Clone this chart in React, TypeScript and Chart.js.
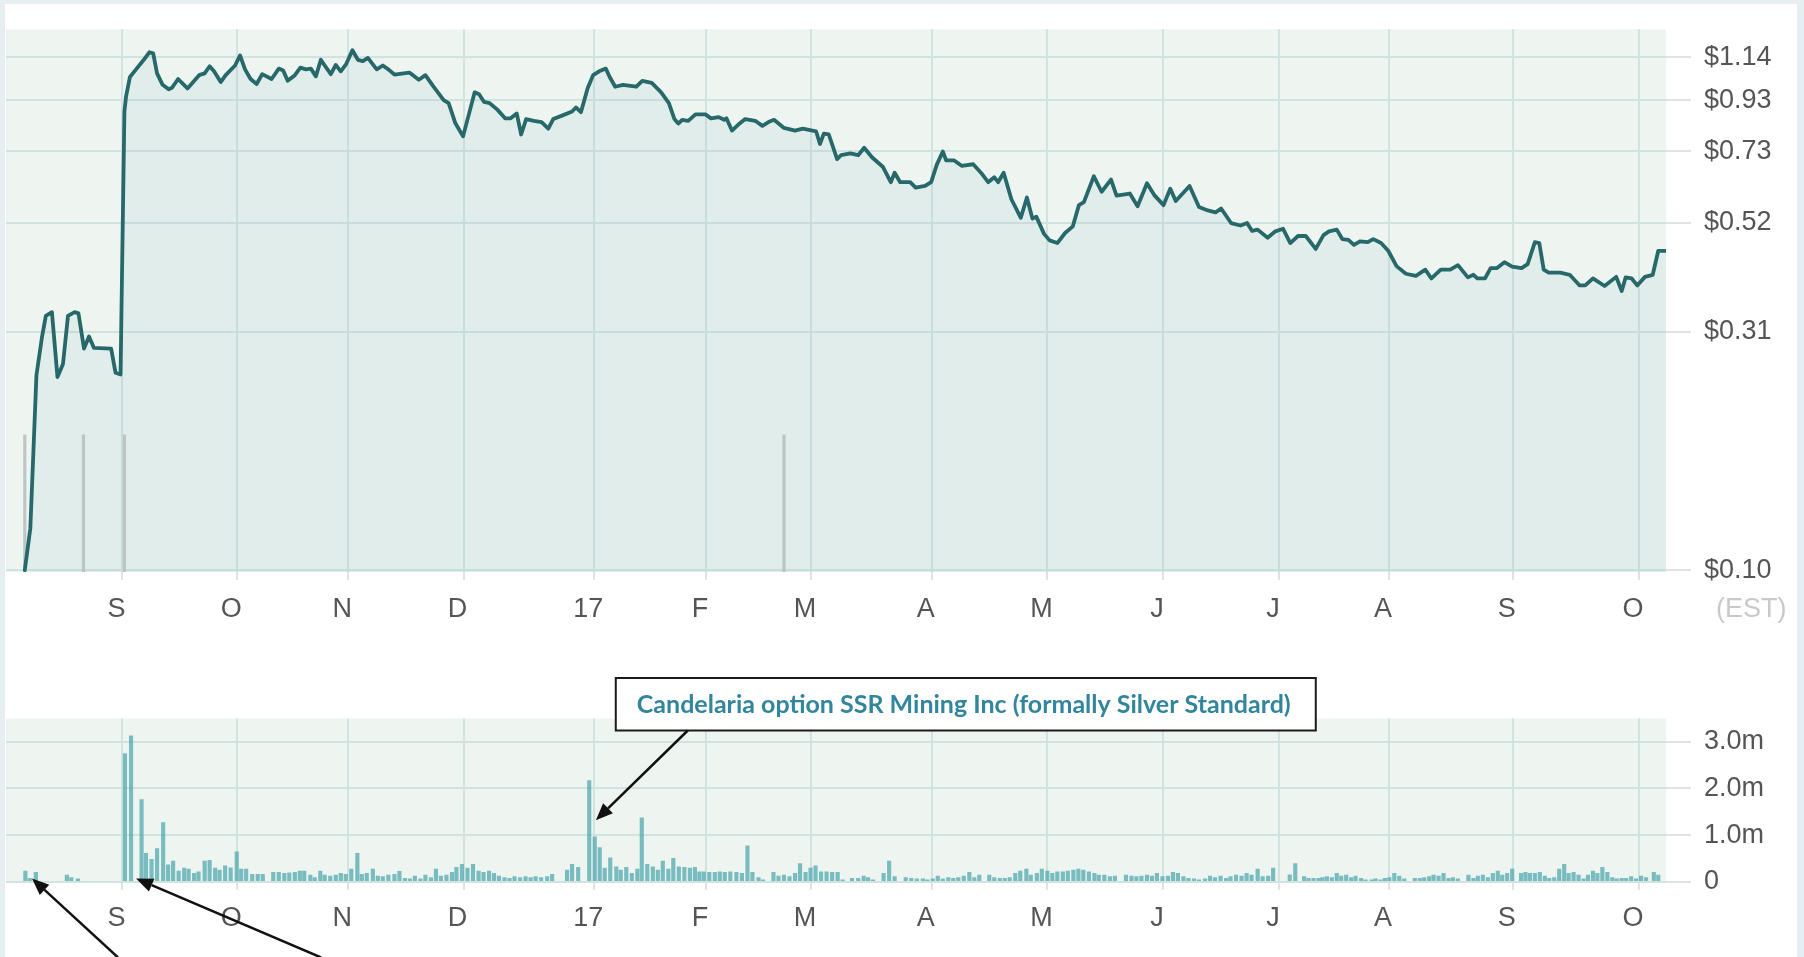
import React, { useEffect, useRef } from 'react';
import { Chart, registerables } from 'chart.js';

Chart.register(...registerables);

// ---------- data ----------
// x is a trading-day index (0..300) covering Aug 2016 .. Oct 2017
const monthTickDays = [21.05, 41.8, 61.85, 82.7, 106.3, 126.5, 145.5, 167.3, 188.2, 209.1, 230.05, 249.95, 272.3, 295.1];
const monthLabels = ['S', 'O', 'N', 'D', '17', 'F', 'M', 'A', 'M', 'J', 'J', 'A', 'S', 'O'];

const priceTicks = [0.10, 0.31, 0.52, 0.73, 0.93, 1.14];
const PRICE_MIN = 0.0991;
const PRICE_MAX = 1.302;

// [trading day, price $]
const pricePoints: [number, number][] = [
  [3.4,0.100],[4.4,0.122],[5.5,0.252],[6.5,0.302],[7.2,0.334],[8.3,0.340],[9.3,0.250],[10.3,0.266],[11.2,0.334],[12.4,0.340],
  [13.1,0.338],[14.1,0.286],[15.0,0.303],[15.9,0.287],[19.0,0.286],[19.8,0.255],[20.7,0.253],[21.4,0.881],[21.7,0.947],[22.4,1.038],
  [23.5,1.076],[24.9,1.126],[25.9,1.167],[26.6,1.161],[27.3,1.056],[28.3,1.000],[29.4,0.979],[30.0,0.986],[31.1,1.028],[32.8,0.983],
  [34.9,1.047],[35.9,1.056],[36.8,1.092],[37.6,1.066],[38.8,1.013],[39.7,1.047],[41.4,1.096],[42.3,1.150],[43.2,1.076],[44.2,1.028],
  [45.3,1.004],[46.3,1.052],[48.0,1.028],[49.3,1.080],[50.1,1.070],[50.9,1.019],[52.2,1.047],[53.2,1.085],[54.2,1.076],[55.1,1.080],
  [56.0,1.041],[56.9,1.126],[57.7,1.092],[58.7,1.052],[59.6,1.099],[60.5,1.066],[61.5,1.105],[62.6,1.178],[63.6,1.126],[64.5,1.119],
  [65.4,1.136],[67.0,1.076],[68.1,1.096],[69.1,1.076],[70.2,1.050],[72.9,1.060],[74.6,1.024],[75.8,1.047],[77.1,0.997],[79.1,0.930],
  [80.0,0.917],[81.2,0.834],[82.6,0.783],[83.6,0.865],[84.7,0.965],[85.5,0.956],[86.4,0.922],[87.4,0.917],[88.8,0.889],[90.2,0.853],
  [91.2,0.853],[92.3,0.873],[93.1,0.790],[94.0,0.850],[95.4,0.843],[96.8,0.838],[98.0,0.812],[98.9,0.850],[100.6,0.865],[102.3,0.881],
  [103.0,0.898],[103.9,0.878],[105.1,0.983],[106.1,1.047],[107.2,1.066],[108.4,1.080],[109.1,1.038],[110.1,0.991],[111.5,1.000],[113.9,0.991],
  [115.0,1.019],[116.7,1.009],[118.4,0.965],[119.8,0.917],[120.8,0.850],[121.5,0.832],[122.2,0.847],[123.3,0.843],[124.6,0.869],[126.4,0.869],
  [127.4,0.853],[128.8,0.858],[129.8,0.847],[130.2,0.853],[131.2,0.805],[132.3,0.827],[133.6,0.850],[135.4,0.843],[136.7,0.823],[137.8,0.838],
  [138.8,0.847],[140.6,0.815],[142.6,0.805],[144.0,0.812],[146.4,0.802],[147.1,0.755],[147.8,0.793],[148.7,0.790],[150.2,0.703],[150.9,0.716],
  [152.6,0.722],[154.0,0.716],[155.1,0.742],[156.5,0.709],[158.5,0.677],[159.9,0.630],[160.6,0.659],[161.6,0.630],[163.4,0.630],[164.4,0.614],
  [166.1,0.619],[167.2,0.630],[168.2,0.684],[169.3,0.729],[169.9,0.699],[171.3,0.699],[172.7,0.681],[174.8,0.686],[176.2,0.659],[177.5,0.630],
  [178.6,0.645],[179.3,0.630],[180.3,0.659],[181.7,0.581],[183.4,0.532],[184.5,0.586],[185.5,0.530],[186.2,0.535],[187.6,0.493],[188.6,0.478],
  [190.0,0.472],[191.4,0.495],[192.8,0.511],[193.9,0.565],[194.8,0.573],[196.6,0.648],[198.0,0.602],[199.7,0.638],[200.7,0.591],[203.1,0.597],
  [204.5,0.562],[206.2,0.627],[207.6,0.591],[209.2,0.565],[210.4,0.611],[211.4,0.576],[213.9,0.619],[215.6,0.560],[217.2,0.551],[218.6,0.546],
  [219.6,0.556],[221.4,0.519],[223.1,0.513],[224.3,0.519],[225.2,0.500],[226.2,0.503],[228.0,0.484],[229.4,0.499],[230.8,0.505],[232.1,0.472],
  [233.5,0.488],[234.9,0.488],[236.7,0.459],[238.1,0.490],[239.1,0.499],[240.5,0.503],[241.5,0.481],[242.6,0.479],[243.6,0.468],[244.7,0.476],
  [246.1,0.474],[247.1,0.481],[248.5,0.472],[249.8,0.455],[251.3,0.423],[253.0,0.408],[254.8,0.404],[256.5,0.416],[257.6,0.399],[259.3,0.416],
  [261.0,0.416],[262.4,0.425],[264.2,0.401],[265.2,0.406],[265.9,0.399],[267.3,0.399],[268.3,0.419],[269.4,0.419],[270.8,0.431],[272.2,0.422],
  [273.9,0.419],[275.0,0.427],[276.3,0.474],[277.1,0.472],[277.9,0.416],[278.8,0.410],[280.9,0.410],[282.6,0.406],[284.4,0.386],[285.4,0.386],
  [286.8,0.399],[288.9,0.385],[291.0,0.402],[292.0,0.376],[292.7,0.401],[293.8,0.399],[294.8,0.386],[296.2,0.402],[297.6,0.406],[298.6,0.455],
  [300.0,0.455],
];

// event markers on the price panel: [trading day, top $]
const markerPoints: [number, number][] = [[3.4, 0.19], [14.0, 0.19], [21.4, 0.19], [140.6, 0.19]];

const volumeTicks = [0, 0.5, 1, 1.5, 2, 2.5, 3, 3.5];
const VOLUME_MAX = 3.5;

// [trading day, volume in millions]
const volumePoints: [number, number][] = [
  [3.5,0.23],[4.3,0.07],[5.4,0.20],[11.0,0.14],[11.8,0.09],[13.0,0.06],[21.5,2.75],[22.6,3.13],[24.5,1.76],[25.3,0.61],
  [26.3,0.48],[27.3,0.71],[28.4,1.27],[29.3,0.36],[30.2,0.44],[31.2,0.23],[32.2,0.29],[33.0,0.27],[34.0,0.18],[34.8,0.21],
  [35.9,0.44],[36.8,0.46],[37.8,0.29],[38.6,0.25],[39.6,0.34],[40.6,0.30],[41.7,0.64],[42.5,0.27],[43.4,0.27],[44.5,0.16],
  [45.5,0.16],[46.4,0.16],[48.3,0.20],[49.3,0.20],[50.3,0.18],[51.2,0.19],[52.2,0.20],[53.1,0.23],[53.9,0.23],[55.0,0.14],
  [55.8,0.09],[56.8,0.23],[57.6,0.14],[58.6,0.12],[59.6,0.14],[60.5,0.18],[61.4,0.16],[62.4,0.27],[63.5,0.61],[64.3,0.16],
  [65.2,0.18],[66.3,0.27],[67.2,0.12],[68.1,0.11],[69.1,0.14],[70.2,0.16],[71.1,0.22],[72.1,0.07],[73.0,0.06],[73.9,0.12],
  [74.9,0.06],[75.8,0.14],[76.8,0.09],[77.7,0.27],[78.6,0.12],[79.6,0.14],[80.6,0.20],[81.4,0.31],[82.4,0.37],[83.4,0.29],
  [84.4,0.37],[85.4,0.23],[86.3,0.20],[87.3,0.23],[88.2,0.18],[89.1,0.12],[90.1,0.09],[91.0,0.07],[91.9,0.11],[92.9,0.09],
  [93.9,0.11],[94.8,0.09],[95.7,0.11],[96.7,0.09],[97.8,0.11],[98.7,0.16],[101.4,0.25],[102.3,0.37],[103.4,0.31],[105.4,2.17],
  [106.4,0.96],[107.3,0.73],[108.2,0.29],[109.2,0.51],[110.3,0.32],[111.1,0.25],[112.1,0.31],[113.1,0.18],[114.1,0.27],[114.9,1.37],
  [115.9,0.37],[116.9,0.32],[117.8,0.25],[118.7,0.44],[119.7,0.27],[120.6,0.50],[121.6,0.32],[122.6,0.31],[123.6,0.29],[124.5,0.31],
  [125.3,0.21],[126.1,0.21],[127.1,0.20],[128.1,0.20],[129.0,0.21],[129.9,0.20],[130.9,0.21],[132.0,0.20],[133.0,0.18],[134.0,0.77],
  [134.9,0.20],[136.0,0.09],[136.8,0.04],[138.7,0.20],[139.6,0.12],[140.6,0.14],[141.6,0.11],[142.6,0.18],[143.5,0.39],[144.5,0.20],
  [145.4,0.29],[146.3,0.34],[147.3,0.21],[148.3,0.21],[149.3,0.20],[150.3,0.20],[151.2,0.04],[152.9,0.07],[154.0,0.07],[155.0,0.12],
  [155.8,0.09],[156.7,0.04],[158.6,0.18],[159.6,0.44],[160.6,0.11],[162.6,0.09],[163.6,0.07],[164.6,0.06],[165.7,0.06],[166.5,0.04],
  [167.5,0.06],[168.4,0.12],[169.3,0.06],[170.3,0.09],[171.2,0.07],[172.1,0.09],[173.1,0.12],[174.1,0.20],[175.0,0.09],[175.9,0.14],
  [177.7,0.14],[178.6,0.09],[179.6,0.07],[180.5,0.07],[181.4,0.09],[182.4,0.18],[183.3,0.23],[184.4,0.27],[185.2,0.14],[186.3,0.18],
  [187.2,0.27],[188.2,0.23],[189.1,0.18],[190.0,0.21],[191.0,0.21],[191.9,0.23],[192.9,0.25],[193.8,0.27],[194.7,0.25],[195.7,0.21],
  [196.7,0.18],[197.5,0.14],[198.5,0.14],[199.5,0.11],[200.4,0.12],[202.4,0.14],[203.4,0.12],[204.3,0.11],[205.2,0.12],[206.2,0.14],
  [207.1,0.12],[208.0,0.18],[209.0,0.11],[210.0,0.12],[210.9,0.20],[211.8,0.18],[212.8,0.11],[213.7,0.07],[214.7,0.06],[215.6,0.04],
  [216.7,0.06],[217.6,0.12],[218.5,0.09],[219.5,0.12],[220.5,0.07],[221.3,0.11],[222.3,0.14],[223.3,0.12],[224.2,0.18],[225.1,0.14],
  [226.2,0.27],[227.1,0.11],[228.1,0.12],[229.0,0.29],[232.0,0.15],[233.0,0.39],[234.6,0.11],[235.4,0.07],[236.3,0.07],[237.2,0.07],
  [237.9,0.09],[238.7,0.11],[239.6,0.09],[240.5,0.18],[241.3,0.12],[242.2,0.14],[243.1,0.09],[243.9,0.12],[244.9,0.07],[245.7,0.04],
  [246.8,0.04],[247.5,0.06],[248.4,0.04],[249.2,0.07],[250.0,0.09],[250.9,0.18],[251.8,0.12],[252.7,0.06],[254.6,0.07],[255.5,0.07],
  [256.3,0.09],[257.2,0.11],[258.0,0.14],[258.9,0.12],[259.8,0.18],[260.7,0.07],[261.5,0.09],[262.4,0.06],[264.3,0.14],[265.2,0.07],
  [266.0,0.12],[266.9,0.14],[267.8,0.09],[268.7,0.18],[269.6,0.23],[270.4,0.14],[271.3,0.18],[272.2,0.27],[273.8,0.18],[274.6,0.20],
  [275.4,0.18],[276.3,0.18],[277.2,0.20],[278.1,0.12],[278.9,0.07],[279.8,0.09],[280.7,0.27],[281.6,0.37],[282.4,0.18],[283.3,0.20],
  [284.2,0.14],[285.1,0.06],[285.9,0.14],[286.8,0.23],[287.6,0.18],[288.5,0.31],[289.4,0.20],[290.3,0.09],[291.1,0.06],[292.0,0.07],
  [292.8,0.07],[293.7,0.11],[294.6,0.06],[295.5,0.12],[296.4,0.09],[297.8,0.20],[298.6,0.14],
];

const calloutText = 'Candelaria option SSR Mining Inc (formally Silver Standard)';
const calloutBoxDay = 110.2;
// arrow tips [trading day, volume m]
const arrowTips: [number, number][] = [[4.7, 0.07], [23.5, 0.07], [106.6, 1.32]];

// ---------- styling ----------
const FONT = '"Liberation Sans", Arial, Helvetica, sans-serif';
const TICK_FONT = { family: FONT, size: 27 };
const TICK_COLOR = '#555555';
const GRID = '#d0e3e0';
const TICK_MARK = '#e0e3e3';
const PLOT_BG = '#eef5f1';
const AXIS_W = 138;

const plotBg = {
  id: 'plotBg',
  beforeDraw(chart: any) {
    const { ctx, chartArea: a } = chart;
    ctx.save();
    ctx.fillStyle = PLOT_BG;
    ctx.fillRect(a.left, a.top, a.right - a.left, a.bottom - a.top);
    ctx.restore();
  },
};

const estLabel = {
  id: 'estLabel',
  afterDraw(chart: any) {
    const { ctx, chartArea: a } = chart;
    ctx.save();
    ctx.font = `27px ${FONT}`;
    ctx.fillStyle = '#c9c9c9';
    ctx.textAlign = 'left';
    ctx.textBaseline = 'middle';
    ctx.fillText('(EST)', a.right + 50, a.bottom + 37.5);
    ctx.restore();
  },
};

function drawArrow(ctx: CanvasRenderingContext2D, x0: number, y0: number, x1: number, y1: number) {
  const ang = Math.atan2(y1 - y0, x1 - x0);
  const len = 17;
  const half = 7;
  const bx = x1 - len * Math.cos(ang);
  const by = y1 - len * Math.sin(ang);
  ctx.beginPath();
  ctx.moveTo(x0, y0);
  ctx.lineTo(bx, by);
  ctx.stroke();
  ctx.beginPath();
  ctx.moveTo(x1, y1);
  ctx.lineTo(bx + half * Math.sin(ang), by - half * Math.cos(ang));
  ctx.lineTo(bx - half * Math.sin(ang), by + half * Math.cos(ang));
  ctx.closePath();
  ctx.fill();
}

const annotations = {
  id: 'annotations',
  afterDraw(chart: any) {
    const { ctx, chartArea: a, scales } = chart;
    const xs = scales.x;
    const ys = scales.y;
    ctx.save();
    // callout box
    const bx = xs.getPixelForValue(calloutBoxDay);
    const by = a.top - 40.5;
    const bw = 700;
    const bh = 52.5;
    ctx.fillStyle = '#ffffff';
    ctx.fillRect(bx, by, bw, bh);
    ctx.strokeStyle = '#1a1a1a';
    ctx.lineWidth = 2;
    ctx.strokeRect(bx, by, bw, bh);
    let size = 25;
    ctx.font = `bold ${size}px Lato, "Open Sans", sans-serif`;
    const w = ctx.measureText(calloutText).width;
    size = Math.min(26, size * 654 / w);
    ctx.font = `bold ${size}px Lato, "Open Sans", sans-serif`;
    ctx.fillStyle = '#31859c';
    ctx.textAlign = 'center';
    ctx.textBaseline = 'alphabetic';
    ctx.fillText(calloutText, bx + bw / 2 - 2, by + 35);

    // arrows
    ctx.strokeStyle = '#111111';
    ctx.fillStyle = '#111111';
    ctx.lineWidth = 2.5;
    const tails = [
      (tx: number, ty: number) => [tx + 86, ty + 79],
      (tx: number, ty: number) => [tx + 185, ty + 79],
      () => [bx + 72, by + bh],
    ];
    arrowTips.forEach(([d, v], i) => {
      const tx = xs.getPixelForValue(d);
      const ty = ys.getPixelForValue(v);
      const [sx, sy] = tails[i](tx, ty);
      drawArrow(ctx, sx, sy, tx, ty);
    });
    ctx.restore();
  },
};

function xScale(height: number) {
  return {
    type: 'linear',
    min: 0,
    max: 300,
    offset: false,
    afterBuildTicks: (s: any) => {
      s.ticks = monthTickDays.map((v) => ({ value: v }));
    },
    afterFit: (s: any) => {
      s.height = height;
    },
    ticks: {
      autoSkip: false,
      maxRotation: 0,
      minRotation: 0,
      padding: 13,
      labelOffset: -6,
      font: TICK_FONT,
      color: TICK_COLOR,
      callback: (_v: any, i: number) => monthLabels[i],
    },
    grid: { color: GRID, lineWidth: 2, tickLength: 8, tickColor: TICK_MARK, offset: false },
    border: { display: false },
  };
}

export default function App() {
  const topRef = useRef<HTMLCanvasElement>(null);
  const botRef = useRef<HTMLCanvasElement>(null);

  useEffect(() => {
    const priceChart = new Chart(topRef.current as HTMLCanvasElement, {
      type: 'line',
      data: {
        datasets: [
          {
            type: 'line',
            data: pricePoints.map(([x, y]) => ({ x, y })),
            borderColor: '#27686a',
            borderWidth: 3.8,
            pointRadius: 0,
            tension: 0,
            fill: 'start',
            backgroundColor: 'rgba(118,175,181,0.11)',
            borderJoinStyle: 'round',
            borderCapStyle: 'round',
            order: 0,
          } as any,
          {
            type: 'bar',
            data: markerPoints.map(([x, y]) => ({ x, y: [PRICE_MIN, y] })),
            backgroundColor: 'rgba(188,194,193,0.95)',
            barThickness: 2.5,
            grouped: false,
            order: 1,
          } as any,
        ],
      },
      options: {
        animation: false,
        responsive: false,
        devicePixelRatio: 1,
        layout: { padding: { left: 6, top: 28.5, right: 0, bottom: 0 } },
        plugins: {
          legend: { display: false },
          tooltip: { enabled: false },
          filler: { drawTime: 'beforeDatasetsDraw' },
        } as any,
        scales: {
          x: xScale(68) as any,
          y: {
            type: 'logarithmic',
            position: 'right',
            min: PRICE_MIN,
            max: PRICE_MAX,
            afterBuildTicks: (s: any) => {
              s.ticks = priceTicks.map((v) => ({ value: v }));
            },
            afterFit: (s: any) => {
              s.width = AXIS_W;
            },
            ticks: {
              padding: 13,
              font: TICK_FONT,
              color: TICK_COLOR,
              callback: (v: any) => '$' + Number(v).toFixed(2),
            },
            grid: { color: GRID, lineWidth: 2, tickLength: 25, tickColor: TICK_MARK },
            border: { display: false },
          } as any,
        },
      },
      plugins: [plotBg, estLabel],
    });

    const volumeChart = new Chart(botRef.current as HTMLCanvasElement, {
      type: 'bar',
      data: {
        datasets: [
          {
            data: volumePoints.map(([x, y]) => ({ x, y })),
            backgroundColor: 'rgba(76,166,172,0.72)',
            barThickness: 3.5,
            grouped: false,
          } as any,
        ],
      },
      options: {
        animation: false,
        responsive: false,
        devicePixelRatio: 1,
        layout: { padding: { left: 6, top: 78.5, right: 0, bottom: 0 } },
        plugins: { legend: { display: false }, tooltip: { enabled: false } },
        scales: {
          x: xScale(75.3) as any,
          y: {
            type: 'linear',
            position: 'right',
            min: 0,
            max: VOLUME_MAX,
            afterBuildTicks: (s: any) => {
              s.ticks = volumeTicks.map((v) => ({ value: v }));
            },
            afterFit: (s: any) => {
              s.width = AXIS_W;
            },
            ticks: {
              padding: 13,
              font: TICK_FONT,
              color: TICK_COLOR,
              callback: (v: any) => {
                const n = Number(v);
                if (n === 0) return '0';
                return Number.isInteger(n) ? n.toFixed(1) + 'm' : '';
              },
            },
            grid: {
              color: (c: any) => {
                const v = c.tick ? c.tick.value : 0;
                return Number.isInteger(v) && v < VOLUME_MAX ? GRID : 'rgba(0,0,0,0)';
              },
              lineWidth: 2,
              tickLength: 25,
              tickColor: TICK_MARK,
            },
            border: { display: false },
          } as any,
        },
      },
      plugins: [plotBg, annotations],
    });

    return () => {
      priceChart.destroy();
      volumeChart.destroy();
    };
  }, []);

  return (
    <div style={{ position: 'absolute', left: 0, top: 0, width: 1804, height: 957, background: '#e7eef1', overflow: 'hidden' }}>
      <div style={{ position: 'absolute', left: 5, top: 4, width: 1792, height: 953, background: '#ffffff' }} />
      <canvas ref={topRef} width={1804} height={640} style={{ position: 'absolute', left: 0, top: 0, width: 1804, height: 640 }} />
      <canvas ref={botRef} width={1804} height={317} style={{ position: 'absolute', left: 0, top: 640, width: 1804, height: 317 }} />
    </div>
  );
}
